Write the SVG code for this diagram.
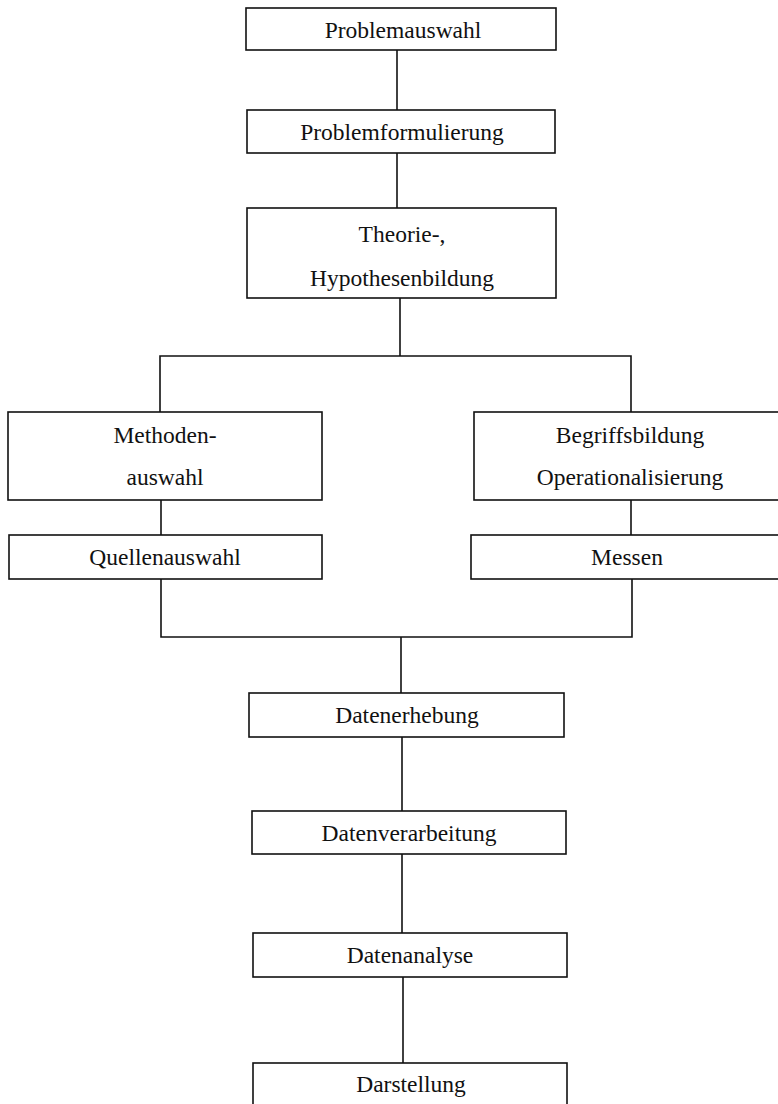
<svg xmlns="http://www.w3.org/2000/svg" width="778" height="1104" viewBox="0 0 778 1104">
<style>
.box{fill:#fff;stroke:#111;stroke-width:1.6}
.lbl{font-family:"Liberation Serif","Times New Roman",serif;font-size:23.5px;fill:#111;text-anchor:middle}
.con{fill:none;stroke:#111;stroke-width:1.6}
</style>
<rect width="778" height="1104" fill="#fff"/>
<g id="connectors">
<line class="con" x1="397" y1="50" x2="397" y2="110"/>
<line class="con" x1="397" y1="153" x2="397" y2="208"/>
<polyline class="con" points="400,298 400,356"/>
<polyline class="con" points="160,412 160,356 631,356 631,412"/>
<line class="con" x1="161" y1="500" x2="161" y2="535"/>
<line class="con" x1="631" y1="500" x2="631" y2="535"/>
<polyline class="con" points="161,579 161,637 632,637 632,579"/>
<line class="con" x1="401" y1="637" x2="401" y2="693"/>
<line class="con" x1="402" y1="737" x2="402" y2="811"/>
<line class="con" x1="402" y1="854" x2="402" y2="933"/>
<line class="con" x1="403" y1="977" x2="403" y2="1063"/>
</g>
<g id="n1"><rect class="box" x="246" y="8" width="310" height="42"/><text class="lbl" x="403" y="38">Problemauswahl</text></g>
<g id="n2"><rect class="box" x="247" y="110" width="308" height="43"/><text class="lbl" x="402" y="140">Problemformulierung</text></g>
<g id="n3"><rect class="box" x="247" y="208" width="309" height="90"/><text class="lbl" x="402" y="242">Theorie-,</text><text class="lbl" x="402" y="286">Hypothesenbildung</text></g>
<g id="n4"><rect class="box" x="8" y="412" width="314" height="88"/><text class="lbl" x="165" y="443">Methoden-</text><text class="lbl" x="165" y="485">auswahl</text></g>
<g id="n5"><rect class="box" x="474" y="412" width="320" height="88"/><text class="lbl" x="630" y="443">Begriffsbildung</text><text class="lbl" x="630" y="485">Operationalisierung</text></g>
<g id="n6"><rect class="box" x="9" y="535" width="313" height="44"/><text class="lbl" x="165" y="565">Quellenauswahl</text></g>
<g id="n7"><rect class="box" x="471" y="535" width="320" height="44"/><text class="lbl" x="627" y="565">Messen</text></g>
<g id="n8"><rect class="box" x="249" y="693" width="315" height="44"/><text class="lbl" x="407" y="723">Datenerhebung</text></g>
<g id="n9"><rect class="box" x="252" y="811" width="314" height="43"/><text class="lbl" x="409" y="841">Datenverarbeitung</text></g>
<g id="n10"><rect class="box" x="253" y="933" width="314" height="44"/><text class="lbl" x="410" y="963">Datenanalyse</text></g>
<g id="n11"><rect class="box" x="253" y="1063" width="314" height="50"/><text class="lbl" x="411" y="1092">Darstellung</text></g>
</svg>
